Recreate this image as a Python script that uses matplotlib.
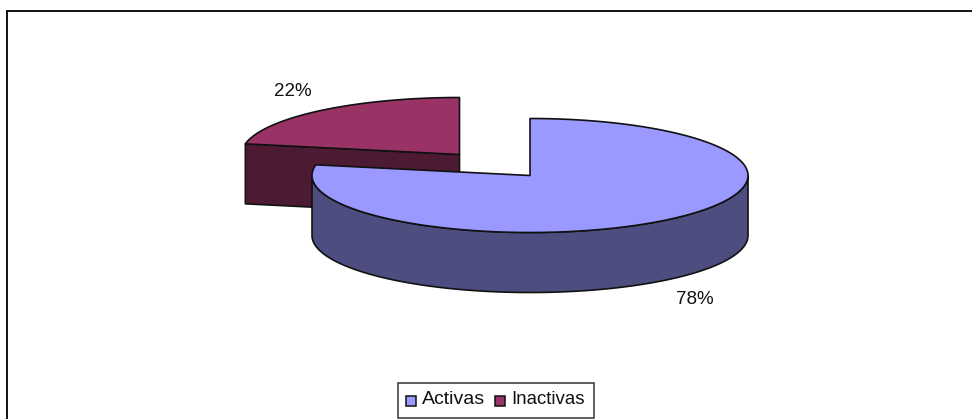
import numpy as np
import matplotlib
matplotlib.use("Agg")
import matplotlib.pyplot as plt
from matplotlib.patches import Rectangle

plt.rcParams['font.family'] = ['Liberation Sans', 'DejaVu Sans']

labels = ["Activas", "Inactivas"]
shares = [78, 22]
top_colors = ["#9999FF", "#993366"]
side_colors = ["#4D4D80", "#4D1A33"]

W, H = 972, 419
fig = plt.figure(figsize=(W/100, H/100), dpi=100)
ax = fig.add_axes([0, 0, 1, 1])
ax.set_xlim(0, W); ax.set_ylim(H, 0); ax.axis("off")

RX, RY, DEPTH = 218, 57, 60
EDGE = dict(edgecolor="#111111", linewidth=1.2, joinstyle="round")

def pt(cx, cy, a):
    return cx + RX*np.sin(a), cy - RY*np.cos(a)

frac = np.array(shares)/sum(shares)
split = 2*np.pi*frac[0]

# Inactivas slice (exploded to the upper left), drawn first
cx, cy = 459.5, 154.5
t = np.linspace(split, 2*np.pi, 100)
x, y = pt(cx, cy, t)
xs, ys = pt(cx, cy, split)
ax.fill([xs, cx, cx, xs], [ys, cy, cy+DEPTH, ys+DEPTH], facecolor=side_colors[1], **EDGE)
ax.fill(np.r_[cx, x], np.r_[cy, y], facecolor=top_colors[1], **EDGE)

# Activas slice
cx, cy = 530, 175.5
t = np.linspace(0, split, 300)
x, y = pt(cx, cy, t)
vis = t[(t >= np.pi/2) & (t <= 3*np.pi/2)]
vx, vy = pt(cx, cy, vis)
ax.fill(np.r_[vx, vx[::-1]], np.r_[vy, vy[::-1]+DEPTH], facecolor=side_colors[0], **EDGE)
ax.fill(np.r_[cx, x], np.r_[cy, y], facecolor=top_colors[0], **EDGE)

# Percent labels
ax.text(293, 91, f"{shares[1]}%", ha="center", va="center", fontsize=13.5, color="#111111")
ax.text(695, 299, f"{shares[0]}%", ha="center", va="center", fontsize=13.5, color="#111111")

# Frame (open at right and bottom as cropped)
ax.plot([7, 7], [H, 11], color="#111111", lw=1.4, solid_capstyle="butt")
ax.plot([6, W], [11, 11], color="#111111", lw=1.4, solid_capstyle="butt")

# Legend
ax.add_patch(Rectangle((397.5, 383), 196.5, 35, facecolor="white", edgecolor="#333333", lw=1.1))
ax.add_patch(Rectangle((405.5, 395.5), 10.5, 10.5, facecolor=top_colors[0], edgecolor="#111111", lw=1.1))
ax.text(422, 399, labels[0], ha="left", va="center", fontsize=14, color="#111111")
ax.add_patch(Rectangle((494.5, 395.5), 10.5, 10.5, facecolor=top_colors[1], edgecolor="#111111", lw=1.1))
ax.text(511.5, 399, labels[1], ha="left", va="center", fontsize=13.4, color="#111111")

fig.savefig("out.png", dpi=100, facecolor="white")
